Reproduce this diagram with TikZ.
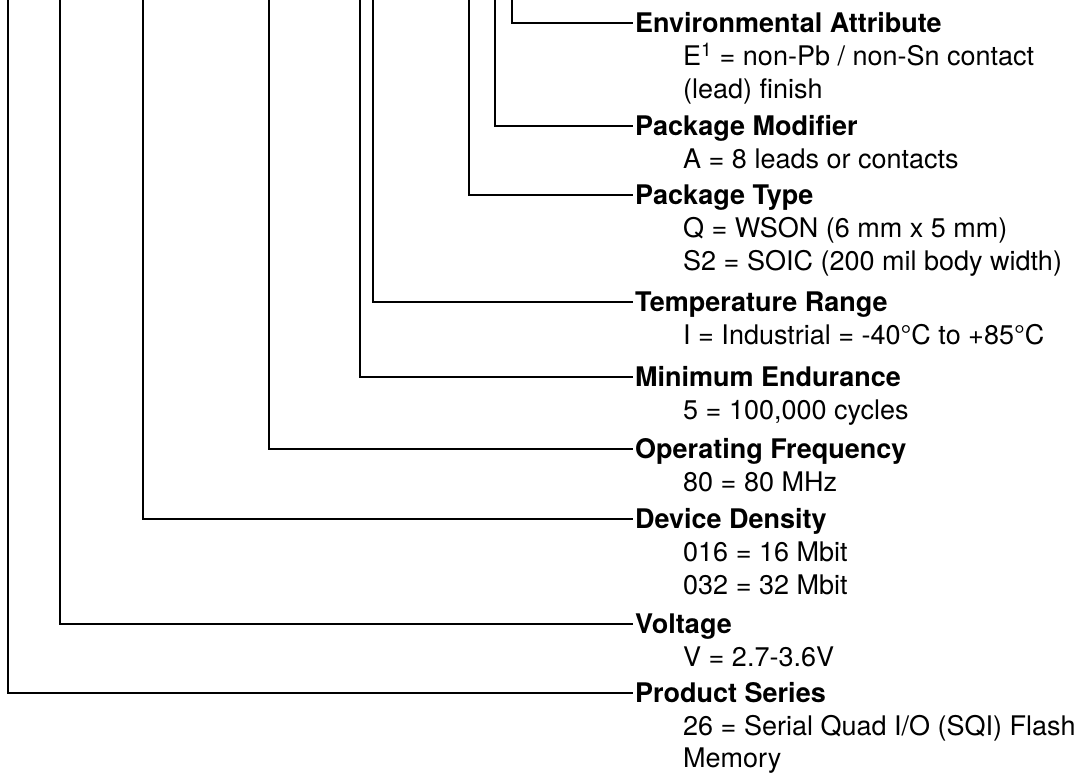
\documentclass[tikz,border=0pt]{standalone}
\usepackage{fontspec}
\setmainfont{TeX Gyre Heros}
\usetikzlibrary{positioning}

\tikzset{
  lead/.style={line width=1.3pt},
  title/.style={font=\bfseries, anchor=west, inner xsep=2pt, inner ysep=0pt, text height=19.4pt, text depth=0pt},
  desc/.style={anchor=west, inner xsep=2pt, inner ysep=0pt, text height=19.4pt, text depth=0pt}
}

\begin{document}
\begin{tikzpicture}[x=1pt,y=-1pt]
\fontsize{27}{33}\selectfont
\useasboundingbox (0,0) rectangle (1081,773);

% field names and codes
\node[title] (ea) at (633,23) {Environmental Attribute};
\node[desc] (ea-a) at (681,56) {E\textsuperscript{1} = non-Pb / non-Sn contact};
\node[desc] (ea-b) at (681,89) {(lead) finish};
\node[title] (pm) at (633,126) {Package Modifier};
\node[desc] (pm-a) at (681,159) {A = 8 leads or contacts};
\node[title] (pt) at (633,195) {Package Type};
\node[desc] (pt-a) at (681,228) {Q = WSON (6 mm x 5 mm)};
\node[desc] (pt-b) at (681,261) {S2 = SOIC (200 mil body width)};
\node[title] (tr) at (633,302) {Temperature Range};
\node[desc] (tr-a) at (681,335) {I = Industrial = -40°C to +85°C};
\node[title] (me) at (633,377) {Minimum Endurance};
\node[desc] (me-a) at (681,410) {5 = 100,000 cycles};
\node[title] (of) at (633,449) {Operating Frequency};
\node[desc] (of-a) at (681,482) {80 = 80 MHz};
\node[title] (dd) at (633,519) {Device Density};
\node[desc] (dd-a) at (681,552) {016 = 16 Mbit};
\node[desc] (dd-b) at (681,585) {032 = 32 Mbit};
\node[title] (vo) at (633,624) {Voltage};
\node[desc] (vo-a) at (681,657) {V = 2.7-3.6V};
\node[title] (ps) at (633,693) {Product Series};
\node[desc] (ps-a) at (681,726) {26 = Serial Quad I/O (SQI) Flash};
\node[desc] (ps-b) at (681,758) {Memory};

% lead lines from the part number (above the picture)
\coordinate (ea-top) at (512,0);
\coordinate (pm-top) at (495,0);
\coordinate (pt-top) at (469,0);
\coordinate (tr-top) at (373,0);
\coordinate (me-top) at (360,0);
\coordinate (of-top) at (269,0);
\coordinate (dd-top) at (143,0);
\coordinate (vo-top) at (60,0);
\coordinate (ps-top) at (8,0);

\draw[lead] (ea-top) |- (ea.west);
\draw[lead] (pm-top) |- (pm.west);
\draw[lead] (pt-top) |- (pt.west);
\draw[lead] (tr-top) |- (tr.west);
\draw[lead] (me-top) |- (me.west);
\draw[lead] (of-top) |- (of.west);
\draw[lead] (dd-top) |- (dd.west);
\draw[lead] (vo-top) |- (vo.west);
\draw[lead] (ps-top) |- (ps.west);
\end{tikzpicture}
\end{document}
